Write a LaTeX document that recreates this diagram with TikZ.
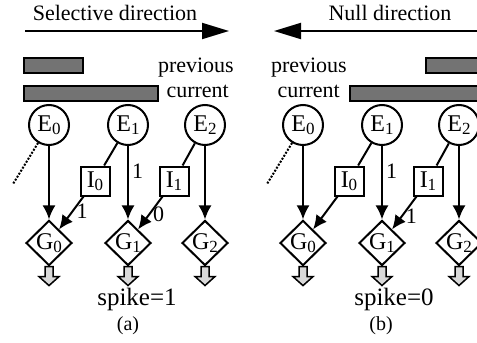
\documentclass[tikz,border=0pt]{standalone}
\usepackage{fontspec}
\setmainfont{Liberation Serif}
\usetikzlibrary{arrows.meta,shapes.geometric,positioning}

% gray output arrow under a gate
\newcommand\spikeout[1]{%
  \draw[outarr] ([xshift=-4pt]#1.south) -- ++(0,10) -- ++(-6,0) -- ++(10,9)
    -- ++(10,-9) -- ++(-6,0) -- ++(0,-10) -- cycle;}
% cell label with a large, low index
\newcommand\cellname[2]{#1\raisebox{-0.3ex}{\fontsize{17}{17}\selectfont #2}}

\begin{document}
\begin{tikzpicture}[
        x=1pt, y=-1pt, % pixel-like units, y grows downwards
        font=\fontsize{22}{25}\selectfont,
        cell/.style={circle, draw, line width=2pt, minimum size=40pt, inner sep=0pt, font=\fontsize{24}{26}\selectfont}, % E cells
        inhib/.style={rectangle, draw, line width=2pt, minimum size=29pt, inner sep=0pt, font=\fontsize{24}{26}\selectfont}, % I cells
        gate/.style={diamond, draw, line width=2pt, minimum width=46pt, minimum height=45pt, inner sep=0pt, font=\fontsize{24}{26}\selectfont}, % G cells
        bar/.style={draw, line width=2pt, fill=black!55, inner sep=0pt, minimum height=15pt, anchor=north west},
        syn/.style={line width=2pt, -{Latex[length=14pt,width=13pt]}},
        link/.style={line width=2pt},
        far/.style={line width=2pt, dash pattern=on 2pt off 1.5pt},
        dirarrow/.style={line width=2pt, -{Triangle[length=27pt,width=16pt]}},
        outarr/.style={draw, line width=1.5pt, fill=black!15},
        wt/.style={right, inner sep=3pt}, % weights on the edges
        txt/.style={inner sep=0pt},
    ]
    \clip (0,0) rectangle (477,343);

    % both panels share the same network
    \foreach \p/\dx in {a/0, b/254} {
        \foreach \i/\x in {0/49, 1/128, 2/205} {
            \node[cell] (\p-E\i) at (\dx+\x,125) {\cellname{E}{\i}};
            \node[gate] (\p-G\i) at (\dx+\x,243) {\cellname{G}{\i}};
            \spikeout{\p-G\i}
        }
        \node[inhib] (\p-I0) at (\dx+95,181) {\cellname{I}{0}};
        \node[inhib] (\p-I1) at (\dx+174,181) {\cellname{I}{1}};
        \coordinate (\p-left) at (\dx+13,184);

        \draw[far] (\p-E0) -- (\p-left);
        \draw[syn] (\p-E0) -- (\p-G0);
        \draw[syn] (\p-E2) -- (\p-G2);
        \draw[link] (\p-E1) -- (\p-I0);
        \draw[link] (\p-E2) -- (\p-I1);
    }

    % (a) selective direction
    \node[txt, anchor=base] at (115,20) {Selective direction};
    \coordinate (a-from) at (25,31);
    \coordinate (a-to) at (229,31);
    \draw[dirarrow] (a-from) -- (a-to);
    \node[bar, minimum width=59pt] (a-prev) at (23,57) {};
    \node[bar, minimum width=134pt] (a-curr) at (23,85) {};
    \node[txt, anchor=base east] at (234,72) {previous};
    \node[txt, anchor=base east] at (229,97) {current};
    \draw[syn] (a-E1) -- node[wt, pos=0.35] {1} (a-G1);
    \draw[syn] (a-I0) -- node[wt, pos=0.45] {1} (a-G0);
    \draw[syn] (a-I1) -- node[wt, pos=0.55] {0} (a-G1);
    \node[txt, anchor=base, font=\fontsize{25}{28}\selectfont] at (137,305) {spike=1};
    \node[txt, anchor=base, font=\fontsize{20}{22}\selectfont] at (128,330) {(a)};

    % (b) null direction
    \node[txt, anchor=base] at (390,20) {Null direction};
    \coordinate (b-from) at (480,31);
    \coordinate (b-to) at (274,31);
    \draw[dirarrow] (b-from) -- (b-to);
    \node[bar, minimum width=100pt] (b-prev) at (425,57) {};
    \node[bar, minimum width=200pt] (b-curr) at (349,85) {};
    \node[txt, anchor=base east] at (347,72) {previous};
    \node[txt, anchor=base east] at (340,97) {current};
    \draw[syn] (b-E1) -- node[wt, pos=0.35] {1} (b-G1);
    \draw[syn] (b-I0) -- (b-G0);
    \draw[syn] (b-I1) -- node[wt, pos=0.6] {1} (b-G1);
    \node[txt, anchor=base, font=\fontsize{25}{28}\selectfont] at (394,305) {spike=0};
    \node[txt, anchor=base, font=\fontsize{20}{22}\selectfont] at (381,330) {(b)};
\end{tikzpicture}
\end{document}
